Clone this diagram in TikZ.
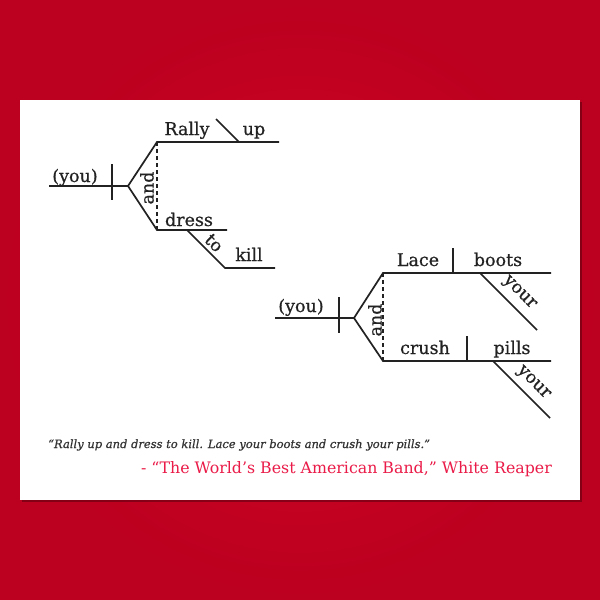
\documentclass[tikz,border=0pt]{standalone}
\usepackage{fontspec}
\setmainfont{DejaVu Serif}
\newfontfamily\wordfont{DejaVu Serif}[FakeBold=0.6]
\usepackage{tikz}
\usetikzlibrary{positioning}
\definecolor{bgin}{HTML}{D20424}
\definecolor{bgout}{HTML}{BC001F}
\definecolor{ink}{HTML}{222222}
\definecolor{quoteink}{HTML}{333333}
\definecolor{bandred}{HTML}{EA1B48}

\begin{document}
\begin{tikzpicture}[x=1pt,y=-1pt,
	word/.style={text=ink,inner sep=0pt,anchor=base,font=\wordfont\fontsize{17.5}{19}\selectfont},
	slantword/.style={word,anchor=center,rotate=-45},
	line/.style={draw=ink,line width=1.7pt},
	conj/.style={draw=ink,line width=1.3pt,dash pattern=on 4pt off 3pt}]
	\useasboundingbox (0,0) rectangle (600,600);
	% background and card
	\shade[inner color=bgin,outer color=bgout] (0,0) rectangle (600,600);
	\fill[black,opacity=0.3] (21.5,101.5) rectangle (581.5,501.5);
	\fill[white] (20,100) rectangle (580,500);

	% Rally up and dress to kill
	\coordinate (s0) at (49,186);	\coordinate (f0) at (128,186);
	\coordinate (d0) at (112,164);	\coordinate (d1) at (112,200);
	\coordinate (r0) at (157,142);	\coordinate (r1) at (279,142);
	\coordinate (p0) at (216,119);	\coordinate (p1) at (239,142);
	\coordinate (e0) at (157,230);	\coordinate (e1) at (227,230);
	\coordinate (t0) at (187,230);	\coordinate (t1) at (225,268);	\coordinate (t2) at (275,268);
	\draw[line] (s0) -- (f0) -- (r0) -- (r1);
	\draw[line] (f0) -- (e0) -- (e1);
	\draw[line] (d0) -- (d1);
	\draw[line] (p0) -- (p1);
	\draw[line] (t0) -- (t1) -- (t2);
	\draw[conj] (r0) -- (e0);
	\node[word] (you0) at (75,182) {(you)};
	\node[word,anchor=center,rotate=90] (and0) at (147,188) {and};
	\node[word] (rally) at (187,135) {Rally};
	\node[word] (up) at (254,135) {up};
	\node[word] (dress) at (189,226) {dress};
	\node[slantword] (to) at (214,243) {to};
	\node[word] (kill) at (249,261) {kill};

	% Lace your boots and crush your pills
	\coordinate (s1) at (275,318);	\coordinate (f1) at (354,318);
	\coordinate (d2) at (339,297);	\coordinate (d3) at (339,333);
	\coordinate (l0) at (383,273);	\coordinate (l1) at (551,273);
	\coordinate (v0) at (453,248);	\coordinate (v1) at (453,273);
	\coordinate (y0) at (480,273);	\coordinate (y1) at (537,330);
	\coordinate (c0) at (383,361);	\coordinate (c1) at (551,361);
	\coordinate (v2) at (467,336);	\coordinate (v3) at (467,361);
	\coordinate (y2) at (493,361);	\coordinate (y3) at (550,418);
	\draw[line] (s1) -- (f1) -- (l0) -- (l1);
	\draw[line] (f1) -- (c0) -- (c1);
	\draw[line] (d2) -- (d3);
	\draw[line] (v0) -- (v1);
	\draw[line] (v2) -- (v3);
	\draw[line] (y0) -- (y1);
	\draw[line] (y2) -- (y3);
	\draw[conj] (l0) -- (c0);
	\node[word] (you1) at (301,312) {(you)};
	\node[word,anchor=center,rotate=90] (and1) at (375,320) {and};
	\node[word] (lace) at (418,266) {Lace};
	\node[word] (boots) at (498,266) {boots};
	\node[slantword] (your0) at (519,293) {your};
	\node[word] (crush) at (425,354) {crush};
	\node[word] (pills) at (512,354) {pills};
	\node[slantword] (your1) at (533,383) {your};

	% quote
	\node[anchor=base west,inner sep=0pt,text=quoteink,font=\wordfont\fontsize{11.5}{13}\selectfont\itshape] (quote) at (48,448)
		{“Rally up and dress to kill. Lace your boots and crush your pills.”};
	\node[anchor=base east,inner sep=0pt,text=bandred,font=\fontsize{15.8}{18}\selectfont] (band) at (552,473)
		{- “The World’s Best American Band,” White Reaper};
\end{tikzpicture}
\end{document}
